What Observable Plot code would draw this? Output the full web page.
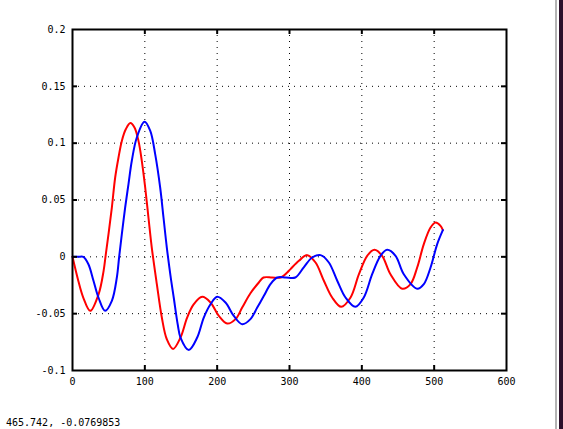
<!DOCTYPE html>
<html>
<head>
<meta charset="utf-8">
<script src="https://cdn.jsdelivr.net/npm/d3@7"></script>
<script src="https://cdn.jsdelivr.net/npm/@observablehq/plot@0.6"></script>
<style>
  html, body { margin: 0; padding: 0; background: #fff; }
  body { width: 563px; height: 429px; position: relative; overflow: hidden; }
  #caption { position: absolute; left: 6px; top: 417px; font: 10px "DejaVu Sans Mono", monospace; color: #000; white-space: pre; }
  #edge1 { position: absolute; left: 555px; top: 0; width: 2px; height: 429px; background: #b4b4b4; }
  #edge2 { position: absolute; left: 559px; top: 0; width: 4px; height: 429px; background: #2c0f2a; }
</style>
</head>
<body>
<div id="chart"></div>
<div id="caption">465.742, -0.0769853</div>
<div id="edge1"></div>
<div id="edge2"></div>
<script>
const xTicks = [0, 100, 200, 300, 400, 500, 600];
const yTicks = [-0.1, -0.05, 0, 0.05, 0.1, 0.15, 0.2];

const redX = [0, 8, 15, 24.5, 36, 43, 46, 50, 54.4, 59, 63.6, 68.2, 73.8, 80, 85.7, 91.2, 95.8, 100.5, 105, 109.6, 116.6, 123.5, 130.4, 139, 149.3, 158.5, 167.7, 179.3, 190.8, 202.3, 213.8, 225.4, 234.6, 246, 257.6, 264, 276, 288, 296.8, 301.4, 313, 324.5, 336, 347.5, 359, 371.5, 384.4, 396, 407.4, 417.5, 428, 439.6, 455.8, 467.3, 476.5, 485.7, 495, 502, 508.8, 512];
const redY = [0, -0.021, -0.036, -0.0475, -0.033, -0.0123, 0.002, 0.021, 0.0434, 0.0698, 0.0874, 0.102, 0.1124, 0.1177, 0.1138, 0.102, 0.0845, 0.061, 0.0346, 0.0082, -0.024, -0.0534, -0.0725, -0.081, -0.071, -0.0534, -0.0417, -0.0352, -0.0402, -0.052, -0.0587, -0.0548, -0.0446, -0.032, -0.0226, -0.0182, -0.0182, -0.0182, -0.0138, -0.0108, -0.0035, 0.0015, -0.005, -0.021, -0.0358, -0.044, -0.0358, -0.0153, 0.0009, 0.0062, 0.0009, -0.0153, -0.028, -0.024, -0.0094, 0.0112, 0.0258, 0.0302, 0.0273, 0.0235];

const blueX = [0, 8, 15, 22, 29, 36, 45, 54.4, 61.3, 64.5, 68.2, 72.8, 77.4, 82, 88.9, 99.5, 107.4, 114.3, 121.2, 125.8, 130.4, 135.5, 140, 145.6, 149.3, 160.8, 172.4, 181.5, 190.8, 200, 211.5, 223, 234.6, 246, 255.4, 264.6, 273.7, 283, 295, 308, 320, 331.4, 343, 354.4, 366, 377.4, 391, 402.7, 414.3, 425.8, 435, 446.6, 458, 476.5, 485.7, 495, 504.2, 512];
const blueY = [0, 0, 0, -0.0065, -0.021, -0.036, -0.0475, -0.0387, -0.0182, 0, 0.02, 0.0434, 0.064, 0.0845, 0.105, 0.1188, 0.111, 0.0904, 0.061, 0.0346, 0.0082, -0.0167, -0.036, -0.06, -0.071, -0.082, -0.071, -0.0534, -0.0417, -0.0352, -0.0402, -0.052, -0.0593, -0.0548, -0.0446, -0.0343, -0.024, -0.0182, -0.0182, -0.0182, -0.009, -0.0006, 0.0015, -0.005, -0.021, -0.0358, -0.044, -0.0358, -0.0153, 0.0009, 0.0062, 0.0009, -0.0153, -0.028, -0.024, -0.0094, 0.0112, 0.0235];

const red = redX.map((x, i) => ({x, y: redY[i]}));
const blue = blueX.map((x, i) => ({x, y: blueY[i]}));

const W = 563, H = 400, mT = 29, mB = 30, mL = 72, mR = 57;
const fh = H - mT - mB, fw = W - mL - mR;
const innerX = xTicks.slice(1, -1);
const innerY = yTicks.slice(1, -1);
const fmt = d => String(d);

const chart = Plot.plot({
  width: W, height: H,
  marginTop: mT, marginBottom: mB, marginLeft: mL, marginRight: mR,
  style: { fontFamily: "DejaVu Sans Mono, monospace", fontSize: "10px", color: "#000", background: "#fff" },
  x: { domain: [0, 600] },
  y: { domain: [-0.1, 0.2] },
  marks: [
    Plot.ruleX(innerX, { x: d => d, stroke: "#000", strokeWidth: 1, strokeDasharray: "1,5" }),
    Plot.ruleY(innerY, { y: d => d, stroke: "#000", strokeWidth: 1, strokeDasharray: "1,5" }),
    Plot.line(red, { x: "x", y: "y", stroke: "#ff0000", strokeWidth: 2, curve: "catmull-rom" }),
    Plot.line(blue, { x: "x", y: "y", stroke: "#0000ff", strokeWidth: 2, curve: "catmull-rom" }),
    Plot.ruleX(innerX, { x: d => d, stroke: "#000", strokeWidth: 2, insetTop: fh - 5 }),
    Plot.ruleX(innerX, { x: d => d, stroke: "#000", strokeWidth: 2, insetBottom: fh - 5 }),
    Plot.ruleY(innerY, { y: d => d, stroke: "#000", strokeWidth: 2, insetRight: fw - 5 }),
    Plot.ruleY(innerY, { y: d => d, stroke: "#000", strokeWidth: 2, insetLeft: fw - 5 }),
    Plot.frame({ stroke: "#000", strokeWidth: 2 }),
    Plot.axisX({ ticks: xTicks, tickSize: 0, tickPadding: 7, tickFormat: fmt, label: null }),
    Plot.axisY({ ticks: yTicks, tickSize: 0, tickPadding: 7, tickFormat: fmt, label: null })
  ]
});
document.getElementById("chart").appendChild(chart);
</script>
</body>
</html>
